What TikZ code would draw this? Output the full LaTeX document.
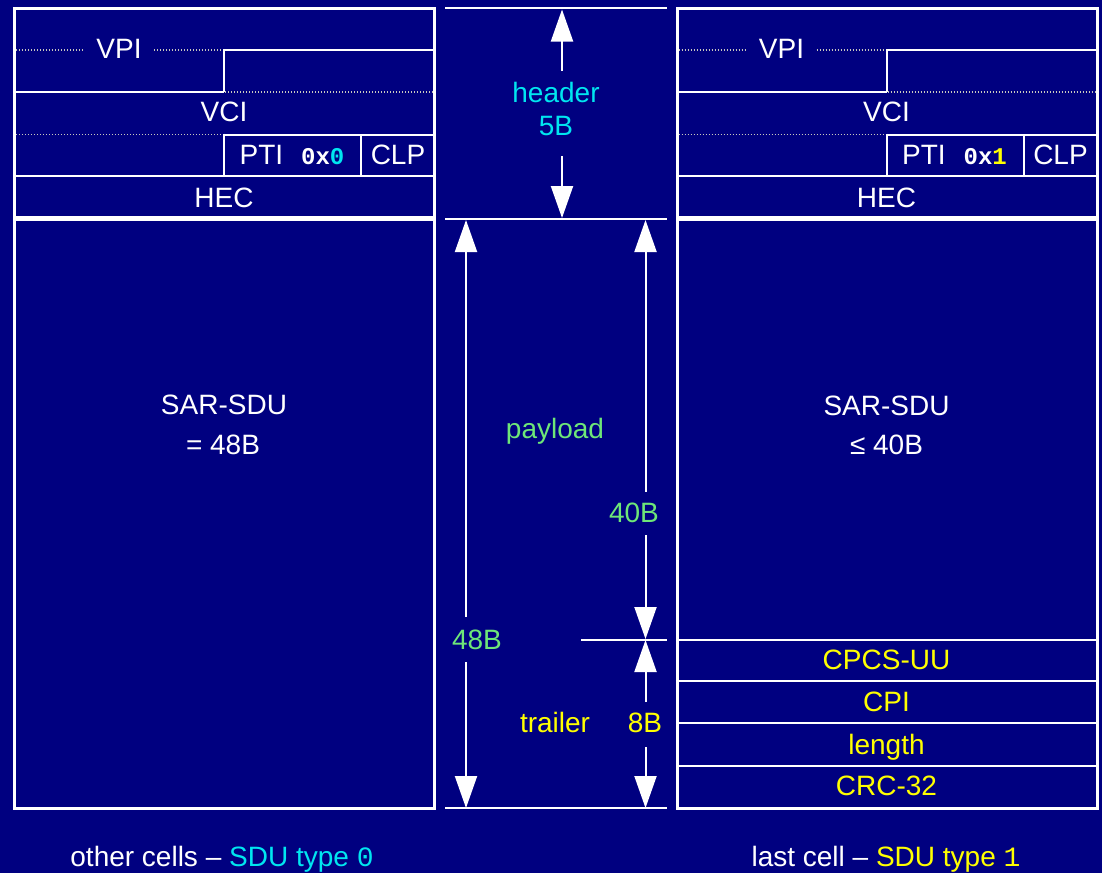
\documentclass[tikz,border=0pt]{standalone}
\usepackage{fontspec}
\setmainfont{Liberation Sans}
\setmonofont{Liberation Mono}
\usetikzlibrary{arrows.meta}
\definecolor{navy}{RGB}{0,0,128}
\definecolor{cy}{RGB}{0,230,240}
\definecolor{gr}{RGB}{110,230,120}
\definecolor{ye}{RGB}{255,255,0}
\definecolor{dotc}{RGB}{200,200,190}
\newcommand\monotxt[1]{{\fontsize{24}{28}\selectfont\ttfamily\bfseries #1}}
\newcommand\cellframe{%
  \draw[box] (14.5,8.7) rectangle (434.5,217);
  \draw[box] (14.5,219.5) rectangle (434.5,808.5);
  \draw[dot] (16,50) -- (224,50);
  \draw[sep] (224,50) -- (434.5,50);
  \draw[sep] (224,49) -- (224,92);
  \draw[sep] (14.5,92) -- (224,92);
  \draw[dot] (225,92) -- (433,92);
  \draw[dot] (16,134.5) -- (223,134.5);
  \draw[sep] (224,134.5) -- (434.5,134.5);
  \draw[sep] (224,133.5) -- (224,176);
  \draw[sep] (361,134.5) -- (361,176);
  \draw[sep] (14.5,176) -- (434.5,176);
}
\begin{document}
\begin{tikzpicture}[x=1pt,y=-1pt,
  every node/.style={font=\fontsize{28}{33}\selectfont, text=white, inner sep=0pt, text height=20pt, text depth=0pt},
  box/.style={draw=white, line width=3pt},
  sep/.style={draw=white, line width=2pt},
  dot/.style={draw=dotc, line width=1.6pt, dash pattern=on 1.4pt off 1.6pt},
  dim/.style={draw=white, line width=2pt, -{Triangle[width=22pt,length=32pt]}},
  gapfill/.style={fill=navy, inner xsep=12pt}]
\fill[navy] (0,0) rectangle (1102,873);
\useasboundingbox (0,0) rectangle (1102,873);

% ---------- left cell ----------
\begin{scope}
  \cellframe
  \node[gapfill] (vpiL) at (119,48) {VPI};
  \node (vciL) at (224,111) {VCI};
  \node (ptiL) at (292,154) {PTI\hspace{18pt}\monotxt{0x\textcolor{cy}{0}}};
  \node (clpL) at (398,154) {CLP};
  \node (hecL) at (224,197) {HEC};
  \node (sduL1) at (224,404) {SAR-SDU};
  \node (sduL2) at (223,444) {= 48B};
\end{scope}

% ---------- right cell ----------
\begin{scope}[xshift=662.5pt]
  \cellframe
  \draw[sep] (14.5,639.5) -- (434.5,639.5);
  \draw[sep] (14.5,681) -- (434.5,681);
  \draw[sep] (14.5,723.3) -- (434.5,723.3);
  \draw[sep] (14.5,765.7) -- (434.5,765.7);
  \node[gapfill] (vpiR) at (119,48) {VPI};
  \node (vciR) at (224,111) {VCI};
  \node (ptiR) at (292,154) {PTI\hspace{18pt}\monotxt{0x\textcolor{ye}{1}}};
  \node (clpR) at (398,154) {CLP};
  \node (hecR) at (224,197) {HEC};
  \node (sduR1) at (224,405) {SAR-SDU};
  \node (sduR2) at (224,444) {≤ 40B};
  \node[text=ye] (cpcs) at (224,659) {CPCS-UU};
  \node[text=ye] (cpi) at (224,701.5) {CPI};
  \node[text=ye] (len) at (224,744) {length};
  \node[text=ye] (crc) at (224,785.5) {CRC-32};
\end{scope}

% ---------- middle dimensions ----------
\draw[sep] (445,8.3) -- (667,8.3);
\draw[sep] (445,219) -- (667,219);
\draw[sep] (445,808.3) -- (667,808.3);
\draw[sep] (581,639.5) -- (667,639.5);

\node[text=cy] (hdr1) at (556,92) {header};
\node[text=cy] (hdr2) at (556,125) {5B};
\coordinate (hS1) at (562,71);
\coordinate (hT1) at (562,9.5);
\coordinate (hS2) at (562,156);
\coordinate (hT2) at (562,218);
\draw[dim] (hS1) -- (hT1);
\draw[dim] (hS2) -- (hT2);

\node[text=gr] (pay) at (555,428) {payload};
\node[text=ye] (trl) at (555,722) {trailer};

\node[text=gr] (l48) at (477,639) {48B};
\coordinate (a48s1) at (466,617);
\coordinate (a48t1) at (466,220);
\coordinate (a48s2) at (466,662);
\coordinate (a48t2) at (466,808);
\draw[dim] (a48s1) -- (a48t1);
\draw[dim] (a48s2) -- (a48t2);

\node[text=gr] (l40) at (634,512) {40B};
\coordinate (a40s1) at (645.5,491.5);
\coordinate (a40t1) at (645.5,220);
\coordinate (a40s2) at (645.5,535);
\coordinate (a40t2) at (645.5,639);
\draw[dim] (a40s1) -- (a40t1);
\draw[dim] (a40s2) -- (a40t2);

\node[text=ye] (l8) at (645,722) {8B};
\coordinate (a8s1) at (645.5,702);
\coordinate (a8t1) at (645.5,640);
\coordinate (a8s2) at (645.5,747);
\coordinate (a8t2) at (645.5,808);
\draw[dim] (a8s1) -- (a8t1);
\draw[dim] (a8s2) -- (a8t2);

% ---------- captions ----------
\node (capL) at (222,856) {other cells – \textcolor{cy}{SDU type \texttt{0}}};
\node (capR) at (886,856) {last cell – \textcolor{ye}{SDU type \texttt{1}}};
\end{tikzpicture}
\end{document}
